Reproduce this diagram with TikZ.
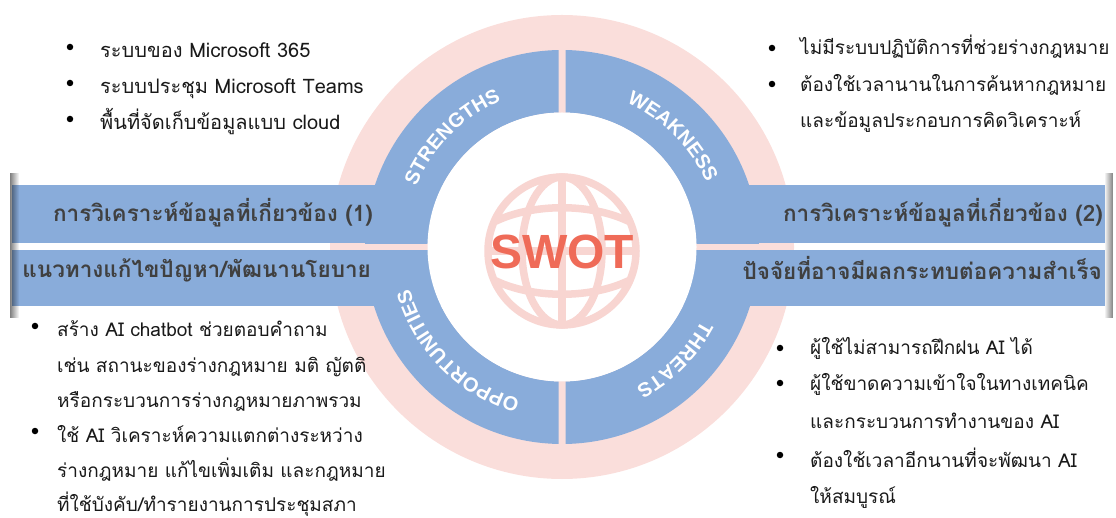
\documentclass[tikz,border=0pt]{standalone}
\usepackage{fontspec}
\newfontfamily\thai[Script=Thai]{Loma}
\newfontfamily\lab{Liberation Sans}
\usetikzlibrary{decorations.text,fadings,calc}
\definecolor{ringpink}{RGB}{250,222,219}
\definecolor{globepink}{RGB}{248,213,209}
\definecolor{qblue}{RGB}{137,172,218}
\definecolor{swotred}{RGB}{239,107,88}
\definecolor{bartext}{RGB}{64,64,64}
\definecolor{bodytext}{RGB}{25,25,25}
\tikzset{
  bodyline/.style={anchor=base west, inner sep=0pt, font=\thai\fontsize{19}{19}\selectfont, text=bodytext},
  bigline/.style={bodyline, font=\thai\fontsize{20}{20}\selectfont},
  bartxt/.style={anchor=base east, inner sep=0pt, font=\thai\bfseries\fontsize{22.5}{22.5}\selectfont, text=bartext},
  dot/.style={circle, fill=black, inner sep=0pt, minimum size=6.5pt},
  quad/.style={fill=qblue},
  globeline/.style={draw=globepink, line width=7.5pt},
  arclabel/.style={decorate, decoration={text along path, text align=center, text={|\lab\bfseries\fontsize{20}{20}\selectfont\color{white}|#1}}}
}
\begin{document}
\begin{tikzpicture}[x=1pt,y=1pt]
\useasboundingbox (0,0) rectangle (1116,517);
\coordinate (C) at (562,270);
% pink disk
\fill[ringpink] (C) circle[radius=232];
% quadrants with bars
\begin{scope}
  \clip (0,273.5) rectangle (558.5,517);
  \fill[quad,even odd rule] (C) circle[radius=197] (C) circle[radius=134.5];
  \fill[quad] (12,273.5) rectangle (562,332);
\end{scope}
\begin{scope}
  \clip (565.5,273.5) rectangle (1116,517);
  \fill[quad,even odd rule] (C) circle[radius=197] (C) circle[radius=134.5];
  \fill[quad] (562,273.5) rectangle (1105,332);
\end{scope}
\begin{scope}
  \clip (0,0) rectangle (558.5,266.5);
  \fill[quad,even odd rule] (C) circle[radius=197] (C) circle[radius=134.5];
  \fill[quad] (12,211) rectangle (562,266.5);
\end{scope}
\begin{scope}
  \clip (565.5,0) rectangle (1116,266.5);
  \fill[quad,even odd rule] (C) circle[radius=197] (C) circle[radius=134.5];
  \fill[quad] (562,211) rectangle (1105,266.5);
\end{scope}
% bar end shadows
\fill[black, opacity=0.5, path fading=east] (10,199) rectangle (19,344);
\fill[black, opacity=0.5, path fading=west] (1104,199) rectangle (1113,344);
% inner white circle
\fill[white] (C) circle[radius=134.5];
% globe
\coordinate (G) at (562,266);
\draw[globeline] (G) circle[radius=74];
\draw[globeline] (G) ellipse[x radius=40, y radius=74];
\draw[globeline] ($(G)+(0,74)$) -- ($(G)+(0,-74)$);
\draw[globeline] ($(G)+(-74,0)$) -- ($(G)+(74,0)$);
\draw[globeline] ($(G)+(-68,29)$) .. controls ($(G)+(-30,48)$) and ($(G)+(30,48)$) .. ($(G)+(68,29)$);
\draw[globeline] ($(G)+(-68,-29)$) .. controls ($(G)+(-30,-48)$) and ($(G)+(30,-48)$) .. ($(G)+(68,-29)$);
\node[font=\lab\bfseries\fontsize{48}{48}\selectfont, text=swotred, inner sep=0pt] (swot) at (562,265) {SWOT};
% arc labels
\path[arclabel=STRENGTHS] ($(C)+(180:158)$) arc[start angle=180, end angle=90, radius=158];
\path[arclabel=WEAKNESS] ($(C)+(90:158)$) arc[start angle=90, end angle=0, radius=158];
\path[arclabel=OPPORTUNITIES] ($(C)+(270:158)$) arc[start angle=270, end angle=180, radius=158];
\path[arclabel=THREATS] ($(C)+(360:158)$) arc[start angle=360, end angle=270, radius=158];
% bar texts
\node[bartxt] (b1) at (373,295) {การวิเคราะห์ข้อมูลที่เกี่ยวข้อง (1)};
\node[bartxt] (b2) at (371,239) {แนวทางแก้ไขปัญหา/พัฒนานโยบาย};
\node[bartxt] (b3) at (1103,295) {การวิเคราะห์ข้อมูลที่เกี่ยวข้อง (2)};
\node[bartxt] (b4) at (1102,237) {ปัจจัยที่อาจมีผลกระทบต่อความสำเร็จ};
% strengths
\node[dot] (sd1) at (70,470) {};
\node[dot] (sd2) at (70,434) {};
\node[dot] (sd3) at (70,398) {};
\node[bigline] (s1) at (100,459) {ระบบของ Microsoft 365};
\node[bigline] (s2) at (100,423) {ระบบประชุม Microsoft Teams};
\node[bigline] (s3) at (100,387) {พื้นที่จัดเก็บข้อมูลแบบ cloud};
% weakness
\node[dot] (wd1) at (772,469) {};
\node[dot] (wd2) at (772,433) {};
\node[bodyline] (w1) at (800,462) {ไม่มีระบบปฏิบัติการที่ช่วยร่างกฎหมาย};
\node[bodyline] (w2) at (800,425) {ต้องใช้เวลานานในการค้นหากฎหมาย};
\node[bodyline] (w3) at (800,389) {และข้อมูลประกอบการคิดวิเคราะห์};
% opportunities
\node[dot] (od1) at (35,191) {};
\node[dot] (od2) at (35,86) {};
\node[bodyline] (o1) at (57,180) {สร้าง AI chatbot ช่วยตอบคำถาม};
\node[bodyline] (o2) at (57,145) {เช่น สถานะของร่างกฎหมาย มติ ญัตติ};
\node[bodyline] (o3) at (57,110) {หรือกระบวนการร่างกฎหมายภาพรวม};
\node[bodyline] (o4) at (57,75) {ใช้ AI วิเคราะห์ความแตกต่างระหว่าง};
\node[bodyline] (o5) at (57,40) {ร่างกฎหมาย แก้ไขเพิ่มเติม และกฎหมาย};
\node[bodyline] (o6) at (57,6) {ที่ใช้บังคับ/ทำรายงานการประชุมสภา};
% threats
\node[dot] (td1) at (780,169) {};
\node[dot] (td2) at (780,134) {};
\node[dot] (td3) at (780,62) {};
\node[bodyline] (t1) at (810,162) {ผู้ใช้ไม่สามารถฝึกฝน AI ได้};
\node[bodyline] (t2) at (810,127) {ผู้ใช้ขาดความเข้าใจในทางเทคนิค};
\node[bodyline] (t3) at (810,89) {และกระบวนการทำงานของ AI};
\node[bodyline] (t4) at (810,50) {ต้องใช้เวลาอีกนานที่จะพัฒนา AI};
\node[bodyline] (t5) at (810,14) {ให้สมบูรณ์};
\end{tikzpicture}
\end{document}
